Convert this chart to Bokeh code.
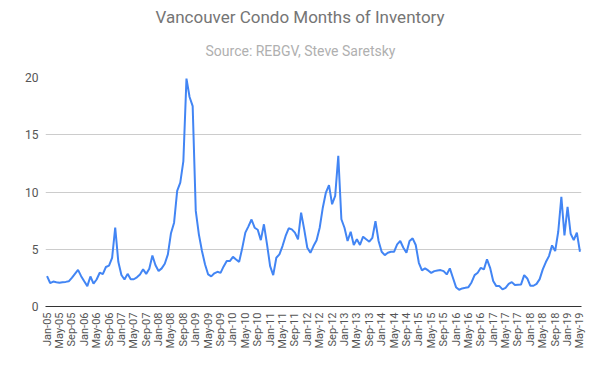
from bokeh.plotting import figure
from bokeh.models import Range1d, FixedTicker, Title
from bokeh.embed import file_html
from bokeh.resources import INLINE

month_names = ["Jan", "Feb", "Mar", "Apr", "May", "Jun",
               "Jul", "Aug", "Sep", "Oct", "Nov", "Dec"]
months = [f"{m}-{y:02d}" for y in range(5, 20) for m in month_names][:173]

moi = [
    2.65, 2.05, 2.18, 2.12, 2.07, 2.12, 2.15, 2.2, 2.5, 2.85,
    3.2, 2.65, 2.2, 1.78, 2.62, 2.0, 2.36, 2.95, 2.82, 3.45,
    3.57, 4.25, 6.9, 3.9, 2.75, 2.36, 2.85, 2.38, 2.38, 2.55,
    2.8, 3.25, 2.85, 3.3, 4.45, 3.6, 3.1, 3.33, 3.73, 4.55,
    6.4, 7.32, 10.1, 10.82, 12.7, 19.9, 18.3, 17.5, 8.35, 6.3,
    4.85, 3.67, 2.8, 2.63, 2.9, 3.03, 2.94, 3.5, 3.97, 3.97,
    4.34, 4.1, 3.9, 5.1, 6.45, 7.0, 7.6, 6.88, 6.7, 5.8,
    7.18, 5.43, 3.53, 2.74, 4.26, 4.55, 5.28, 6.16, 6.83, 6.74,
    6.45, 5.87, 8.2, 6.74, 5.13, 4.69, 5.28, 5.78, 6.88, 8.63,
    9.95, 10.6, 8.93, 9.66, 13.16, 7.62, 6.88, 5.72, 6.53, 5.37,
    5.87, 5.37, 6.1, 5.87, 5.66, 6.0, 7.45, 5.72, 4.78, 4.49,
    4.69, 4.78, 4.78, 5.43, 5.72, 5.13, 4.69, 5.72, 5.95, 5.37,
    3.82, 3.15, 3.33, 3.15, 2.94, 3.09, 3.15, 3.18, 3.09, 2.8,
    3.33, 2.51, 1.69, 1.46, 1.58, 1.63, 1.69, 2.1, 2.74, 2.95,
    3.38, 3.24, 4.12, 3.38, 2.22, 1.78, 1.78, 1.49, 1.63, 1.98,
    2.13, 1.87, 1.9, 1.93, 2.74, 2.45, 1.81, 1.81, 1.98, 2.39,
    3.24, 3.88, 4.4, 5.34, 4.84, 6.55, 9.57, 6.2, 8.7, 6.35,
    5.8, 6.45, 4.78,
]

tick_positions = list(range(0, len(months), 4))
tick_labels = [months[i] for i in tick_positions]
y_ticks = [0, 5, 10, 15, 20]

x = list(range(len(moi)))

p = figure(width=598, height=370, output_backend="svg", toolbar_location=None,
           x_range=Range1d(-0.5, len(moi) - 0.5), y_range=Range1d(0, 20),
           min_border_left=45, min_border_right=17, min_border_top=77,
           min_border_bottom=64, title="Vancouver Condo Months of Inventory")
p.title.align = "left"
p.title.offset = 110
p.title.standoff = 0
p.title.text_font = "Roboto"
p.title.text_font_size = "17px"
p.title.text_font_style = "normal"
p.title.text_color = "#757575"
p.add_layout(Title(text="Source: REBGV, Steve Saretsky", align="left", offset=160,
                   standoff=33, vertical_align="top", text_font="Roboto",
                   text_font_size="14px", text_font_style="normal",
                   text_color="#b0b0b0"), "above")

p.outline_line_color = None
p.background_fill_color = "white"
p.border_fill_color = "white"

p.line(x, moi, line_color="#4285F4", line_width=2)

p.xaxis.ticker = FixedTicker(ticks=tick_positions)
p.xaxis.major_label_overrides = {pos: lab for pos, lab in zip(tick_positions, tick_labels)}
p.xaxis.major_label_orientation = 1.5707963267948966
p.xaxis.major_tick_line_color = None
p.xaxis.major_tick_out = 0
p.xaxis.minor_tick_line_color = None
p.xaxis.minor_tick_out = 0
p.xaxis.axis_line_color = "#333333"
p.xaxis.major_label_text_font = "Roboto"
p.xaxis.major_label_text_font_size = "11px"
p.xaxis.major_label_text_color = "#555555"
p.xaxis.major_label_standoff = 6

p.yaxis.ticker = FixedTicker(ticks=y_ticks)
p.yaxis.axis_line_color = None
p.yaxis.major_tick_line_color = None
p.yaxis.major_tick_out = 0
p.yaxis.minor_tick_line_color = None
p.yaxis.minor_tick_out = 0
p.yaxis.major_label_text_font = "Roboto"
p.yaxis.major_label_text_font_size = "12px"
p.yaxis.major_label_text_color = "#555555"
p.yaxis.major_label_standoff = 7

p.xgrid.grid_line_color = None
p.ygrid.ticker = FixedTicker(ticks=[5, 10, 15, 20])
p.ygrid.grid_line_color = "#cccccc"
p.ygrid.grid_line_width = 1

open("out.html", "w").write(file_html(p, INLINE))
